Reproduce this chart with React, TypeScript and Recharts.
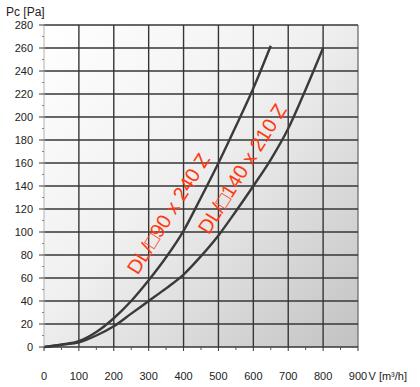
import { LineChart, Line, XAxis, YAxis, ReferenceLine, ReferenceArea, ReferenceDot } from 'recharts';

// DL/□90 x 240 Z
const flow90 = [0, 50, 100, 150, 200, 250, 300, 350, 400, 450, 500, 550, 600, 650];
const pressure90 = [0, 2, 5, 13, 25, 40, 58, 78, 101, 130, 160, 192, 225, 262];

// DL/□140 x 210 Z
const flow140 = [0, 50, 100, 150, 200, 250, 300, 350, 400, 450, 500, 550, 600, 650, 700, 750, 800];
const pressure140 = [0, 2, 4, 10, 18, 29, 40, 51, 63, 79, 97, 118, 140, 163, 190, 224, 260];

const seriesNames = ['DL/□90 x 240 Z', 'DL/□140 x 210 Z'];

const xTicks = [0, 100, 200, 300, 400, 500, 600, 700, 800, 900];
const xMinorTicks = [50, 150, 250, 350, 450, 550, 650, 750, 850];
const yTicks = [0, 20, 40, 60, 80, 100, 120, 140, 160, 180, 200, 220, 240, 260, 280];
const yMinorTicks = [10, 30, 50, 70, 90, 110, 130, 150, 170, 190, 210, 230, 250, 270];

const data90 = flow90.map((f, i) => ({ flow: f, pc: pressure90[i] }));
const data140 = flow140.map((f, i) => ({ flow: f, pc: pressure140[i] }));

const FONT = '"Liberation Sans", Arial, sans-serif';
const GRID = '#363636';

const XTick = ({ x, y, payload }: any) => {
  const v = payload.value;
  const major = v % 100 === 0;
  return (
    <g>
      <line x1={x} x2={x} y1={y} y2={y + (major ? 4 : 3)} stroke={major ? GRID : '#555'} strokeWidth={1} />
      {major && (
        <text x={x} y={y + 33} textAnchor="middle" fontSize={11} fill="#222" fontFamily={FONT}>
          {v}
        </text>
      )}
      {v === 900 && (
        <text x={x + 10.5} y={y + 33} textAnchor="start" fontSize={11} fill="#222" fontFamily={FONT}>
          V [m³/h]
        </text>
      )}
    </g>
  );
};

const YTick = ({ x, y, payload }: any) => {
  const v = payload.value;
  const major = v % 20 === 0;
  return (
    <g>
      <line x1={x - (major ? 5 : 2)} x2={x} y1={y} y2={y} stroke={major ? GRID : '#888'} strokeWidth={1} />
      {major && (
        <text x={x - 11} y={y + 4} textAnchor="end" fontSize={11} fill="#222" fontFamily={FONT}>
          {v}
        </text>
      )}
    </g>
  );
};

// rotated series name drawn beside its curve
const curveLabel = (text: string) => ({ cx, cy }: any) => (
  <text
    x={cx}
    y={cy}
    transform={`rotate(-58 ${cx} ${cy})`}
    textAnchor="middle"
    dominantBaseline="central"
    fontSize={20}
    fill="#ff3a10"
    fontFamily={FONT}
  >
    {text}
  </text>
);

export default function App() {
  return (
    <div style={{ position: 'absolute', left: 0, top: 0, width: 420, height: 387, background: '#fff' }}>
      <LineChart width={420} height={387} margin={{ top: 25, right: 62, left: 0, bottom: 0 }}>
        <defs>
          <linearGradient id="plotBg" x1="0" y1="0" x2="1" y2="1">
            <stop offset="0%" stopColor="#ffffff" />
            <stop offset="45%" stopColor="#f0f0f0" />
            <stop offset="100%" stopColor="#c2c2c2" />
          </linearGradient>
        </defs>
        <XAxis
          type="number"
          dataKey="flow"
          domain={[0, 900]}
          ticks={[...xTicks, ...xMinorTicks]}
          interval={0}
          tickSize={0}
          tickMargin={0}
          tickLine={false}
          axisLine={false}
          tick={(p: any) => <XTick {...p} />}
          height={40}
          allowDuplicatedCategory={false}
        />
        <YAxis
          type="number"
          dataKey="pc"
          domain={[0, 280]}
          ticks={[...yTicks, ...yMinorTicks]}
          interval={0}
          tickSize={0}
          tickMargin={0}
          tickLine={false}
          axisLine={{ stroke: '#b0b0b0', strokeWidth: 1 }}
          tick={(p: any) => <YTick {...p} />}
          width={44}
        />
        <ReferenceArea x1={0} x2={900} y1={0} y2={280} fill="url(#plotBg)" fillOpacity={1} stroke="none" />
        {xTicks.filter((v) => v > 0).map((v) => (
          <ReferenceLine key={'x' + v} x={v} stroke={v === 900 ? '#777' : GRID} strokeWidth={1.4} />
        ))}
        {yTicks.map((v) => (
          <ReferenceLine key={'y' + v} y={v} stroke={GRID} strokeWidth={1.4} />
        ))}
        <Line
          data={data90}
          dataKey="pc"
          type="monotone"
          stroke="#3a3a3a"
          strokeWidth={2.4}
          dot={false}
          isAnimationActive={false}
        />
        <Line
          data={data140}
          dataKey="pc"
          type="monotone"
          stroke="#3a3a3a"
          strokeWidth={2.4}
          dot={false}
          isAnimationActive={false}
        />
        <ReferenceDot x={356} y={116} r={0} shape={curveLabel(seriesNames[0])} />
        <ReferenceDot x={568} y={155} r={0} shape={curveLabel(seriesNames[1])} />
        <text x={6} y={16} fontSize={12} fill="#222" fontFamily={FONT}>
          Pc [Pa]
        </text>
      </LineChart>
    </div>
  );
}
